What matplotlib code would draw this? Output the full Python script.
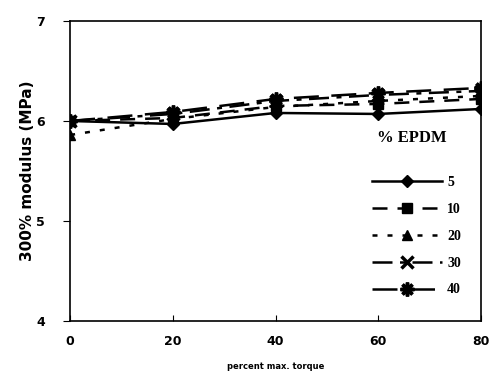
import matplotlib.pyplot as plt

# data (corrected for the scan's tilt)
torque = [0, 20, 40, 60, 80]  # percent max. torque
mod_5 = [6.00, 5.97, 6.08, 6.07, 6.12]
mod_10 = [6.00, 6.03, 6.15, 6.17, 6.22]
mod_20 = [5.86, 6.02, 6.14, 6.20, 6.25]
mod_30 = [6.00, 6.07, 6.20, 6.26, 6.30]
mod_40 = [6.00, 6.09, 6.22, 6.28, 6.33]
labels = ['5', '10', '20', '30', '40']

fig = plt.figure(figsize=(5.01, 3.8), dpi=100)
ax = fig.add_axes([0.14, 0.155, 0.82, 0.79])

ax.plot(torque, mod_5, color='k', lw=1.8, linestyle='-', marker='D', ms=6, label=labels[0])
ax.plot(torque, mod_10, color='k', lw=1.8, linestyle=(0, (6, 4)), marker='s', ms=7, label=labels[1])
ax.plot(torque, mod_20, color='k', lw=1.8, linestyle=(0, (2, 4)), marker='^', ms=7, label=labels[2])
ax.plot(torque, mod_30, color='k', lw=1.8, linestyle=(0, (8, 3, 2, 3)), marker='x', ms=8, mew=2.5, label=labels[3])
ax.plot(torque, mod_40, color='k', lw=1.8, linestyle=(0, (10, 5)), marker=(8, 2, 0), ms=10, mew=2.5, label=labels[4])

ax.set_xlim(0, 80)
ax.set_ylim(4, 7)
ax.set_xticks([0, 20, 40, 60, 80])
ax.set_yticks([4, 5, 6, 7])
ax.tick_params(axis='x', direction='in', length=4, pad=10, labelsize=9)
ax.tick_params(axis='y', direction='out', length=5, pad=13, labelsize=9)
for t in ax.get_xticklabels() + ax.get_yticklabels():
    t.set_fontweight('bold')
for s in ax.spines.values():
    s.set_linewidth(1.2)

ax.set_xlabel('percent max. torque', fontsize=6, fontweight='bold', labelpad=10)
ax.set_ylabel('300% modulus (MPa)', fontsize=11, fontweight='bold', labelpad=1)

fig.text(0.822, 0.637, '% EPDM', family='Liberation Serif', fontsize=12,
         fontweight='bold', ha='center', va='center')
leg = ax.legend(loc='upper left', bbox_to_anchor=(0.718, 0.57), bbox_transform=fig.transFigure,
                frameon=False, handlelength=5.0, handletextpad=0.4, labelspacing=1.0,
                prop={'family': 'Liberation Serif', 'weight': 'bold', 'size': 10})

plt.savefig('out.png', dpi=100)
